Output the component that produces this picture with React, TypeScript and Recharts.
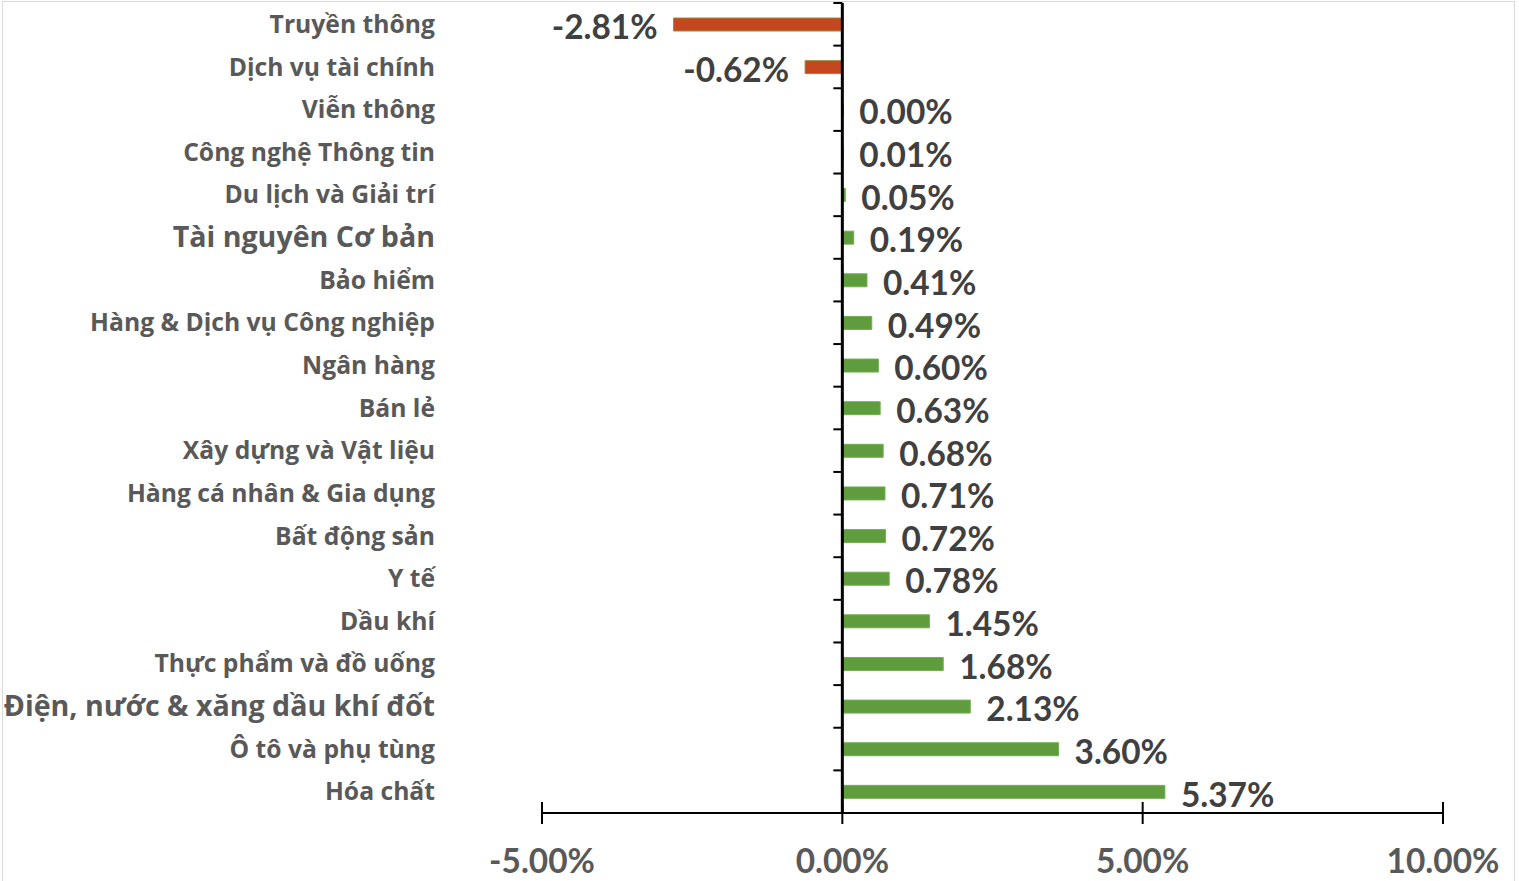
import { BarChart, Bar, XAxis, YAxis, Cell, LabelList, ReferenceLine } from "recharts";

// Sector performance, top to bottom as drawn
const sectors = [
  "Truyền thông",
  "Dịch vụ tài chính",
  "Viễn thông",
  "Công nghệ Thông tin",
  "Du lịch và Giải trí",
  "Tài nguyên Cơ bản",
  "Bảo hiểm",
  "Hàng & Dịch vụ Công nghiệp",
  "Ngân hàng",
  "Bán lẻ",
  "Xây dựng và Vật liệu",
  "Hàng cá nhân & Gia dụng",
  "Bất động sản",
  "Y tế",
  "Dầu khí",
  "Thực phẩm và đồ uống",
  "Điện, nước & xăng dầu khí đốt",
  "Ô tô và phụ tùng",
  "Hóa chất",
];
const changes = [
  -0.0281, -0.0062, 0.0, 0.0001, 0.0005, 0.0019, 0.0041, 0.0049, 0.006, 0.0063,
  0.0068, 0.0071, 0.0072, 0.0078, 0.0145, 0.0168, 0.0213, 0.036, 0.0537,
];
const bigLabels = ["Tài nguyên Cơ bản", "Điện, nước & xăng dầu khí đốt"];
const xTicks = [-0.05, 0, 0.05, 0.1];

const data = sectors.map((name, i) => ({ name, value: changes[i] }));

const W = 1519;
const H = 881;
const M = { top: 3, right: 76, bottom: 8, left: 0 };
const Y_W = 542;
const X_H = 60;
const PLOT_LEFT = M.left + Y_W;
const PLOT_RIGHT = W - M.right;
const PLOT_TOP = M.top;
const PLOT_BOTTOM = H - M.bottom - X_H;
const BAND = (PLOT_BOTTOM - PLOT_TOP) / sectors.length;
const ZERO_X = PLOT_LEFT + ((PLOT_RIGHT - PLOT_LEFT) * 0.05) / 0.15;

const fmt = (v: number) => (v * 100).toFixed(2) + "%";

const YTick = (props: any) => {
  const { x, y, payload, index } = props;
  const big = bigLabels.includes(payload.value);
  return (
    <g>
      <text
        x={x - 107}
        y={y}
        dy="0.35em"
        textAnchor="end"
        fill="#595959"
        fontFamily="'Open Sans', sans-serif"
        fontWeight={700}
        fontSize={big ? 28.6 : 24.7}
      >
        {payload.value}
      </text>
      <line x1={ZERO_X - 9} x2={ZERO_X} y1={y - BAND / 2} y2={y - BAND / 2} stroke="#000" strokeWidth={2} />
      {index === sectors.length - 1 && (
        <line x1={ZERO_X - 9} x2={ZERO_X} y1={y + BAND / 2} y2={y + BAND / 2} stroke="#000" strokeWidth={2} />
      )}
    </g>
  );
};

const XTick = (props: any) => {
  const { x, y, payload } = props;
  return (
    <g>
      <line x1={x} x2={x} y1={y - 11} y2={y + 11} stroke="#000" strokeWidth={2} />
      <text
        x={x}
        y={y + 48}
        dy="0.35em"
        textAnchor="middle"
        fill="#595959"
        fontFamily="Lato, sans-serif"
        fontWeight={700}
        fontSize={33.4}
      >
        {fmt(payload.value)}
      </text>
    </g>
  );
};

const ValueLabel = (props: any) => {
  const { x, y, width, height, value } = props;
  const left = Math.min(x, x + width);
  const right = Math.max(x, x + width);
  const neg = value < 0;
  return (
    <text
      x={neg ? left - 16 : right + 16}
      y={y + height / 2 + 3}
      dy="0.35em"
      textAnchor={neg ? "end" : "start"}
      fill="#404040"
      fontFamily="Lato, sans-serif"
      fontWeight={700}
      fontSize={33.4}
    >
      {fmt(value)}
    </text>
  );
};

export default function App() {
  return (
    <div style={{ position: "absolute", left: 0, top: 0, width: W, height: H, background: "#fff" }}>
      <div
        style={{
          position: "absolute",
          left: 2,
          top: 1,
          width: 1513,
          height: H + 10,
          border: "1px solid #d9d9d9",
          boxSizing: "border-box",
        }}
      />
      <BarChart width={W} height={H} data={data} layout="vertical" margin={M} style={{ position: "absolute", left: 0, top: 0 }}>
        <XAxis
          type="number"
          domain={[-0.05, 0.1]}
          ticks={xTicks}
          height={X_H}
          tickSize={0}
          tickMargin={0}
          tickLine={false}
          axisLine={{ stroke: "#000", strokeWidth: 2 }}
          tick={<XTick />}
          interval={0}
          allowDataOverflow
        />
        <YAxis
          type="category"
          dataKey="name"
          width={Y_W}
          tickSize={0}
          tickMargin={0}
          tickLine={false}
          axisLine={false}
          tick={<YTick />}
          interval={0}
        />
        <Bar dataKey="value" barSize={13} minPointSize={1} isAnimationActive={false}>
          {data.map((d) => (
            <Cell
              key={d.name}
              fill={d.value < 0 ? "#C4471F" : "#5E9C3E"}
              stroke={d.value < 0 ? "#9C8A3E" : "#74AE52"}
              strokeWidth={1}
            />
          ))}
          <LabelList dataKey="value" content={<ValueLabel />} />
        </Bar>
        <ReferenceLine x={0} stroke="#000" strokeWidth={3} />
      </BarChart>
    </div>
  );
}
